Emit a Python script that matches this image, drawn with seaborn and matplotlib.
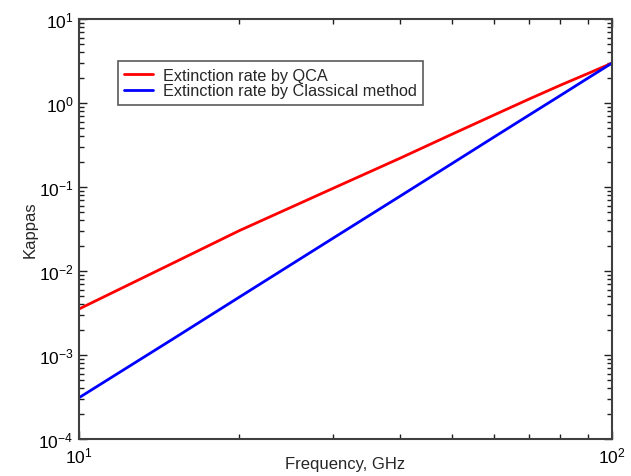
import numpy as np
import pandas as pd
import matplotlib
matplotlib.use("Agg")
import matplotlib.pyplot as plt
import seaborn as sns
from matplotlib.ticker import LogLocator, NullFormatter

# Frequency grid (GHz) and extinction rates for each method
freq_ghz = [10, 15, 20, 30, 40, 50, 60, 70, 80, 90, 100]
kappa_qca = [3.53e-3, 0.0124, 0.0303, 0.0968, 0.220, 0.423, 0.718, 1.12, 1.63, 2.24, 2.99]
kappa_classical = [3.1e-4, 1.55e-3, 4.9e-3, 0.0247, 0.0776, 0.189, 0.392, 0.724, 1.23, 1.97, 2.99]

series_names = ["Extinction rate by QCA", "Extinction rate by Classical method"]
series_colors = ["#ff0000", "#0000ff"]

df = pd.concat([
    pd.DataFrame({"freq": freq_ghz, "kappa": kappa_qca, "method": series_names[0]}),
    pd.DataFrame({"freq": freq_ghz, "kappa": kappa_classical, "method": series_names[1]}),
])

sns.set_style("ticks")
plt.rcParams["font.family"] = ["Liberation Sans", "DejaVu Sans"]
plt.rcParams["mathtext.default"] = "regular"

fig = plt.figure(figsize=(6.31, 4.77), dpi=100)
ax = fig.add_axes([0.1252, 0.0776, 0.8448, 0.8804])

sns.lineplot(data=df, x="freq", y="kappa", hue="method",
             palette=dict(zip(series_names, series_colors)),
             linewidth=2.0, ax=ax, legend=True)

ax.set_xscale("log")
ax.set_yscale("log")
ax.set_xlim(10, 100)
ax.set_ylim(1e-4, 10)

ax.yaxis.set_major_locator(LogLocator(base=10, numticks=10))
ax.yaxis.set_minor_locator(LogLocator(base=10, subs=np.arange(2, 10), numticks=10))
ax.yaxis.set_minor_formatter(NullFormatter())
ax.xaxis.set_minor_formatter(NullFormatter())

frame_color = "#404040"
for sp in ax.spines.values():
    sp.set_visible(True)
    sp.set_color(frame_color)
    sp.set_linewidth(1.5)

ax.tick_params(which="both", direction="in", top=True, right=True,
               colors="#202020", labelcolor="black", labelsize=12.5)
ax.tick_params(which="major", length=6, width=1.0)
ax.tick_params(which="minor", length=3.5, width=1.0)
ax.tick_params(axis="x", which="major", pad=5)
ax.tick_params(axis="y", which="major", pad=4)

ax.set_xlabel("Frequency, GHz", fontsize=12)
ax.xaxis.set_label_coords(0.5, -0.041)
ax.set_ylabel("Kappas", fontsize=12)
ax.yaxis.set_label_coords(-0.078, 0.5)

leg = ax.legend(loc="upper left", bbox_to_anchor=(0.073, 0.9), fontsize=11.7,
                frameon=True, fancybox=False, edgecolor="#303030",
                borderpad=0.4, handlelength=1.75, handletextpad=0.6,
                labelspacing=0.05, borderaxespad=0)
leg.get_frame().set_linewidth(1.2)
for h in leg.get_lines():
    h.set_linewidth(2.0)

fig.savefig("out.png", dpi=100)
